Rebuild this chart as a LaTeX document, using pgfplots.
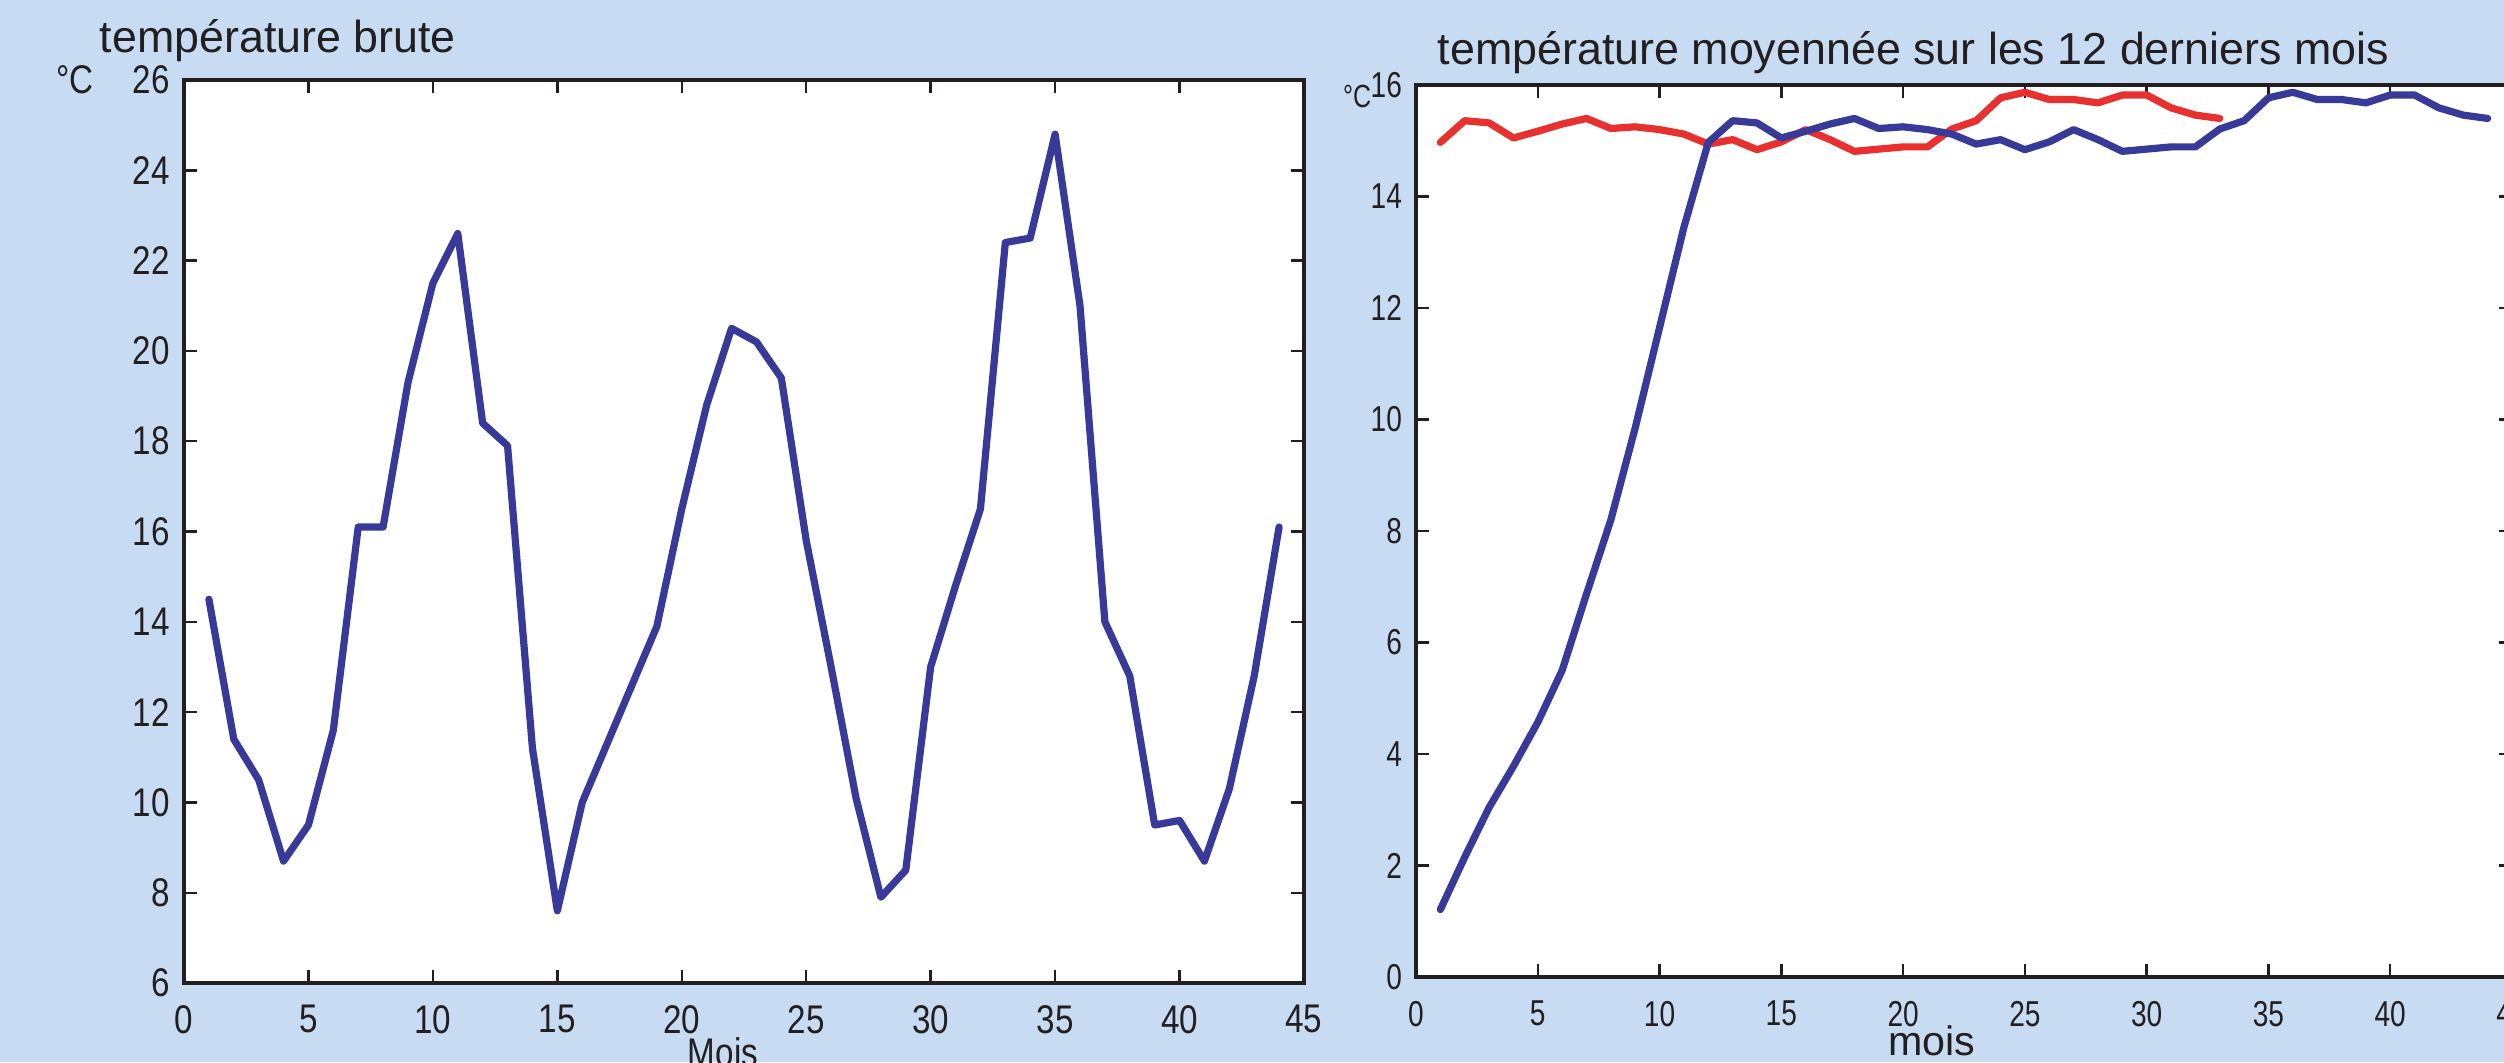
\documentclass[border=0pt]{standalone}
\usepackage{fontspec}
\setmainfont{Liberation Sans}
\newfontfamily\condA[FakeStretch=0.83]{Liberation Sans}
\newfontfamily\condB[FakeStretch=0.78]{Liberation Sans}
\usepackage{pgfplots}
\pgfplotsset{compat=1.18}
\definecolor{fond}{HTML}{C7DBF2}
\definecolor{bleu}{HTML}{373A98}
\definecolor{rouge}{HTML}{E8312F}
\definecolor{encre}{HTML}{231F20}
\pgfplotsset{
  cadre/.style={
    scale only axis, anchor=south west,
    axis line style={line width=1.1pt, encre},
    axis background/.style={fill=white},
    tick align=inside, tick pos=both, major tick length=3.2pt,
    every tick/.style={encre, line width=0.6pt},
    tick label style={text=encre},
    /pgf/number format/assume math mode=true,
  },
  courbe/.style={line width=1.8pt, line join=round, line cap=round, no markers},
}

\begin{document}
\begin{tikzpicture}
\useasboundingbox (0,0) rectangle (626pt,265.5pt);
\fill[fond] (0,0) rectangle (626pt,265.5pt);
\begin{scope}
\clip (0,0) rectangle (626pt,265.5pt);

% température brute
\begin{axis}[cadre,
    at={(46pt,19.75pt)}, width=280pt, height=225.75pt,
    xmin=0, xmax=45, ymin=6, ymax=26,
    xtick={0,5,...,45}, ytick={6,8,...,26},
    tick label style={font=\condA\fontsize{10}{12}\selectfont},
    xticklabel style={yshift=-2pt},
  ]
  \addplot[courbe, bleu] coordinates {
    (1,14.5) (2,11.4) (3,10.5) (4,8.7) (5,9.5) (6,11.6) (7,16.1) (8,16.1)
    (9,19.3) (10,21.5) (11,22.6) (12,18.4) (13,17.9) (14,11.2) (15,7.6)
    (16,10.0) (17,11.3) (18,12.6) (19,13.9) (20,16.5) (21,18.8) (22,20.5)
    (23,20.2) (24,19.4) (25,15.8) (26,13.0) (27,10.1) (28,7.9) (29,8.5)
    (30,13.0) (31,14.8) (32,16.5) (33,22.4) (34,22.5) (35,24.8) (36,21.0)
    (37,14.0) (38,12.8) (39,9.5) (40,9.6) (41,8.7) (42,10.3) (43,12.8)
    (44,16.1)
  };
\end{axis}

% température moyennée
\begin{axis}[cadre,
    at={(354pt,21.25pt)}, width=274pt, height=223pt,
    xmin=0, xmax=45, ymin=0, ymax=16,
    xtick={0,5,...,45}, ytick={0,2,...,16},
    tick label style={font=\condB\fontsize{9}{11}\selectfont},
    xticklabel style={yshift=-2.5pt},
  ]
  \addplot[courbe, rouge] coordinates {
    (1,14.97) (2,15.36) (3,15.32) (4,15.05) (5,15.17) (6,15.30) (7,15.40)
    (8,15.22) (9,15.25) (10,15.20) (11,15.12) (12,14.94) (13,15.02)
    (14,14.84) (15,14.98) (16,15.20) (17,15.02) (18,14.81) (19,14.85)
    (20,14.89) (21,14.89) (22,15.21) (23,15.36) (24,15.77) (25,15.87)
    (26,15.74) (27,15.74) (28,15.68) (29,15.82) (30,15.82) (31,15.59)
    (32,15.46) (33,15.40)
  };
  \addplot[courbe, bleu] coordinates {
    (1,1.21) (2,2.15) (3,3.04) (4,3.78) (5,4.57) (6,5.50) (7,6.87)
    (8,8.20) (9,9.85) (10,11.65) (11,13.45) (12,14.97) (13,15.36)
    (14,15.32) (15,15.05) (16,15.17) (17,15.30) (18,15.40) (19,15.22)
    (20,15.25) (21,15.20) (22,15.12) (23,14.94) (24,15.02) (25,14.84)
    (26,14.98) (27,15.20) (28,15.02) (29,14.81) (30,14.85) (31,14.89)
    (32,14.89) (33,15.21) (34,15.36) (35,15.77) (36,15.87) (37,15.74)
    (38,15.74) (39,15.68) (40,15.82) (41,15.82) (42,15.59) (43,15.46)
    (44,15.40)
  };
\end{axis}

\node[anchor=base west, inner sep=0, text=encre, font=\fontsize{11.2}{13}\selectfont]
  at (24.75pt,252.25pt) {température brute};
\node[anchor=base west, inner sep=0, text=encre, font=\fontsize{11.2}{13}\selectfont]
  at (359.25pt,249.25pt) {température moyennée sur les 12 derniers mois};
\node[text=encre, inner sep=0, font=\condA\fontsize{10}{12}\selectfont]
  at (18.75pt,245.5pt) {°C};
\node[text=encre, inner sep=0, font=\condB\fontsize{8}{10}\selectfont]
  at (339.25pt,241.5pt) {°C};
\node[anchor=north, inner sep=0, text=encre, font=\condA\fontsize{10}{12}\selectfont]
  at (180.75pt,6.25pt) {Mois};
\node[anchor=base, inner sep=0, text=encre, font=\fontsize{10.3}{12}\selectfont]
  at (483pt,1.75pt) {mois};
\end{scope}
\end{tikzpicture}
\end{document}
